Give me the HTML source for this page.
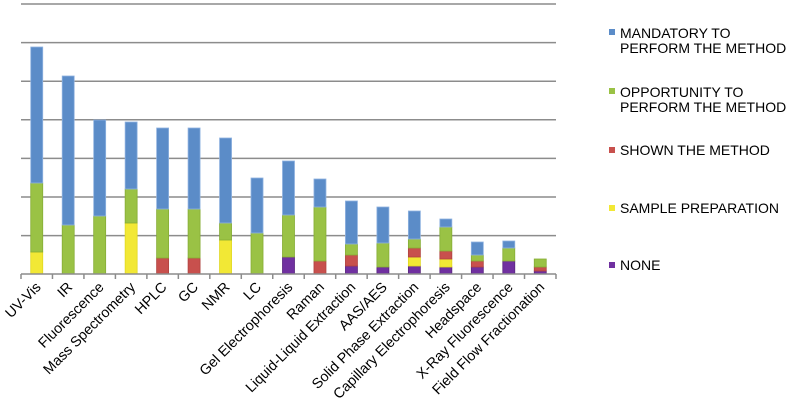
<!DOCTYPE html>
<html><head><meta charset="utf-8"><style>
body{margin:0;background:#fff;}
svg{display:block;font-family:"Liberation Sans",Arial,sans-serif;}
</style></head><body>
<svg width="790" height="405" viewBox="0 0 790 405" xmlns="http://www.w3.org/2000/svg">
<g stroke="#8c8c8c" stroke-width="1.5">
<line x1="21" y1="4" x2="556" y2="4"/>
<line x1="21" y1="42.6" x2="556" y2="42.6"/>
<line x1="21" y1="81.2" x2="556" y2="81.2"/>
<line x1="21" y1="119.8" x2="556" y2="119.8"/>
<line x1="21" y1="158.4" x2="556" y2="158.4"/>
<line x1="21" y1="197" x2="556" y2="197"/>
<line x1="21" y1="235.6" x2="556" y2="235.6"/>
</g>
<g id="bars" stroke-width="0.8"></g>
<g stroke="#8c8c8c" stroke-width="1.5" id="axis">
<line x1="21" y1="274" x2="556" y2="274"/>
</g>
<g id="labels" font-size="14.3" fill="#000"></g>
<g font-size="14" fill="#000">
<rect x="609" y="29" width="6" height="6" fill="#5b8cc8"/>
<text x="620" y="38">MANDATORY TO</text><text x="620" y="53">PERFORM THE METHOD</text>
<rect x="609" y="88" width="6" height="6" fill="#9ac245"/>
<text x="620" y="97">OPPORTUNITY TO</text><text x="620" y="112">PERFORM THE METHOD</text>
<rect x="609" y="147" width="6" height="6" fill="#c8504d"/>
<text x="620" y="155">SHOWN THE METHOD</text>
<rect x="609" y="205" width="6" height="6" fill="#f2e835"/>
<text x="620" y="213">SAMPLE PREPARATION</text>
<rect x="609" y="262" width="6" height="6" fill="#7030a0"/>
<text x="620" y="270">NONE</text>
</g>
<script>
var ns="http://www.w3.org/2000/svg";
var col={p:"#7030a0",y:"#f2e835",r:"#c8504d",g:"#9ac245",b:"#5b8cc8"};
var brd={p:"#5a2680",y:"#e0d820",r:"#b04340",g:"#86ad35",b:"#8fb2e0"};
var data=[
["UV-Vis",[["y",252],["g",183],["b",47]]],
["IR",[["g",225],["b",76]]],
["Fluorescence",[["g",216],["b",120]]],
["Mass Spectrometry",[["y",223],["g",189],["b",122]]],
["HPLC",[["r",258],["g",209],["b",128]]],
["GC",[["r",258],["g",209],["b",128]]],
["NMR",[["y",240],["g",223],["b",138]]],
["LC",[["g",233],["b",178]]],
["Gel Electrophoresis",[["p",257],["g",215],["b",161]]],
["Raman",[["r",261],["g",207],["b",179]]],
["Liquid-Liquid Extraction",[["p",266],["r",255],["g",244],["b",201]]],
["AAS/AES",[["p",267],["g",243],["b",207]]],
["Solid Phase Extraction",[["p",266],["y",257],["r",248],["g",239],["b",211]]],
["Capillary Electrophoresis",[["p",267],["y",259],["r",251],["g",227],["b",219]]],
["Headspace",[["p",267],["r",261],["g",255],["b",242]]],
["X-Ray Fluorescence",[["p",261],["g",248],["b",241]]],
["Field Flow Fractionation",[["p",271],["r",267],["g",259]]]
];
var bars=document.getElementById("bars"),lab=document.getElementById("labels"),ax=document.getElementById("axis");
var w=31.47;
for(var i=0;i<=17;i++){var l=document.createElementNS(ns,"line");var x=21+w*i;l.setAttribute("x1",x);l.setAttribute("x2",x);l.setAttribute("y1",274);l.setAttribute("y2",279);ax.appendChild(l);}
data.forEach(function(d,i){
 var cx=21+w*(i+0.5),bot=274;
 d[1].forEach(function(s){
  var r=document.createElementNS(ns,"rect");
  r.setAttribute("x",cx-6);r.setAttribute("width",12);
  r.setAttribute("y",s[1]);r.setAttribute("height",bot-s[1]);
  r.setAttribute("fill",col[s[0]]);r.setAttribute("stroke",brd[s[0]]);
  bars.appendChild(r);bot=s[1];
 });
 var t=document.createElementNS(ns,"text");
 t.setAttribute("text-anchor","end");
 t.setAttribute("transform","translate("+(cx+5)+",288) rotate(-45)");
 t.textContent=d[0];lab.appendChild(t);
});
</script>
</svg>
</body></html>
